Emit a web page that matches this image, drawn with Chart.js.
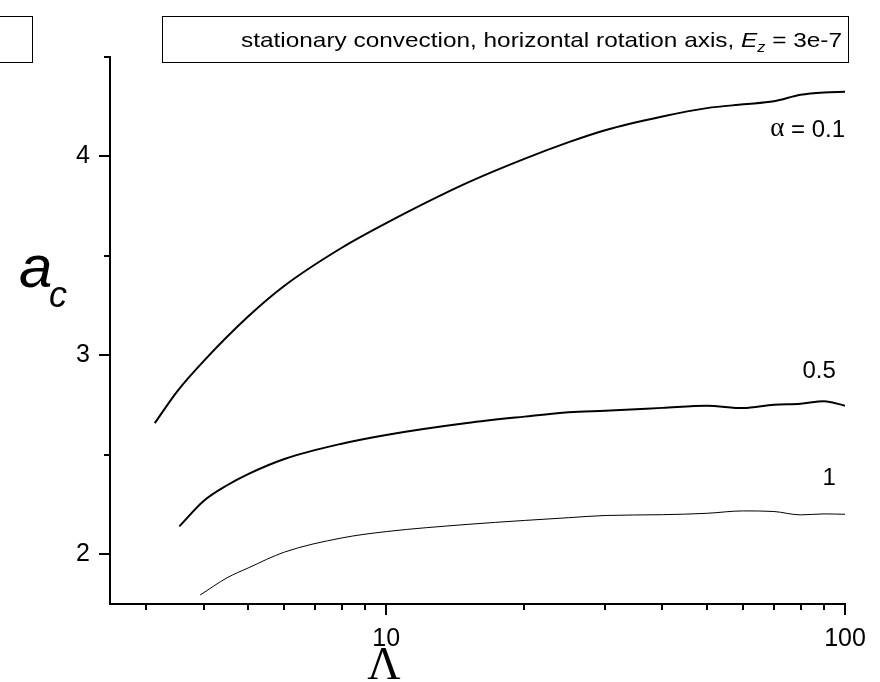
<!DOCTYPE html>
<html>
<head>
<meta charset="utf-8">
<script src="https://cdn.jsdelivr.net/npm/chart.js@4.4.1/dist/chart.umd.min.js"></script>
<style>
  html, body { margin: 0; padding: 0; background: #fff; }
  #wrap { width: 880px; height: 682px; }
</style>
</head>
<body>
<div id="wrap"><canvas id="ac-chart" width="880" height="682"></canvas></div>
<script>
// Critical wavenumber a_c against Elsasser number Lambda, one curve per alpha
const lambdaA01 = [3.13, 3.5, 4, 5, 6, 8, 10, 15, 20, 25, 30, 40, 50, 60, 70, 80, 90, 100];
const acA01 = [2.659, 2.818, 2.971, 3.195, 3.350, 3.541, 3.665, 3.867, 3.988, 4.072, 4.132, 4.201, 4.243, 4.262, 4.277, 4.310, 4.322, 4.325];

const lambdaA05 = [3.54, 4, 4.5, 5, 6, 8, 10, 15, 20, 25, 30, 40, 50, 60, 70, 80, 90, 100];
const acA05 = [2.140, 2.268, 2.347, 2.403, 2.479, 2.556, 2.600, 2.660, 2.692, 2.714, 2.722, 2.736, 2.747, 2.735, 2.752, 2.757, 2.769, 2.747];

const lambdaA1 = [3.93, 4.5, 5, 6, 8, 10, 15, 20, 25, 30, 40, 50, 60, 70, 80, 90, 100];
const acA1 = [1.795, 1.882, 1.931, 2.011, 2.082, 2.114, 2.150, 2.170, 2.184, 2.195, 2.199, 2.206, 2.218, 2.215, 2.198, 2.203, 2.201];

const xTickValues = [3, 4, 5, 6, 7, 8, 9, 10, 20, 30, 40, 50, 60, 70, 80, 90, 100];
const xTickLabels = { 10: '10', 100: '100' };
const yTickValues = [2, 2.5, 3, 3.5, 4, 4.5];

const curveLabels = [
    { greek: '\u03b1', text: ' = 0.1', x: 100, y: 4.13 },
    { greek: '', text: '0.5', x: 95.5, y: 2.918 },
    { greek: '', text: '1', x: 95.5, y: 2.384 }
];

const SANS = '"Liberation Sans", Arial, sans-serif';
const SERIF = '"Liberation Serif", "Times New Roman", serif';

function toPoints(xs, ys) {
    return xs.map((x, i) => ({ x: x, y: ys[i] }));
}

// tick marks: long for decades / integers, short for the rest
const tickMarks = {
    id: 'tickMarks',
    afterDraw(chart) {
        const ctx = chart.ctx;
        const xs = chart.scales.x;
        const ys = chart.scales.y;
        const area = chart.chartArea;
        ctx.save();
        ctx.strokeStyle = '#000';
        ctx.lineWidth = 2;
        xTickValues.forEach(v => {
            const px = Math.round(xs.getPixelForValue(v));
            const len = xTickLabels[v] ? 11 : 6;
            ctx.beginPath();
            ctx.moveTo(px, area.bottom);
            ctx.lineTo(px, area.bottom + len);
            ctx.stroke();
        });
        yTickValues.forEach(v => {
            const py = Math.round(ys.getPixelForValue(v));
            const len = Number.isInteger(v) ? 11 : 6;
            ctx.beginPath();
            ctx.moveTo(area.left, py);
            ctx.lineTo(area.left - len, py);
            ctx.stroke();
        });
        ctx.restore();
    }
};

// axis titles, curve labels and the header boxes
const annotations = {
    id: 'annotations',
    afterDraw(chart) {
        const ctx = chart.ctx;
        const xs = chart.scales.x;
        const ys = chart.scales.y;
        ctx.save();
        ctx.fillStyle = '#000';
        ctx.textBaseline = 'alphabetic';

        // y title: italic a with subscript c
        ctx.textAlign = 'left';
        ctx.font = 'italic 60px ' + SANS;
        ctx.fillText('a', 19, 287);
        ctx.font = 'italic 36px ' + SANS;
        ctx.fillText('c', 49, 307);

        // x title
        ctx.textAlign = 'center';
        ctx.font = '46px ' + SERIF;
        ctx.fillText('\u039b', 384, 679);

        // curve labels, right aligned at their anchor
        ctx.textBaseline = 'middle';
        curveLabels.forEach(l => {
            const px = xs.getPixelForValue(l.x);
            const py = ys.getPixelForValue(l.y);
            ctx.font = '24px ' + SANS;
            const wText = ctx.measureText(l.text).width;
            ctx.textAlign = 'left';
            ctx.fillText(l.text, px - wText, py);
            if (l.greek) {
                ctx.font = '27px ' + SERIF;
                const wG = ctx.measureText(l.greek).width;
                ctx.fillText(l.greek, px - wText - wG, py - 2);
            }
        });

        // header boxes
        ctx.strokeStyle = '#000';
        ctx.lineWidth = 1;
        ctx.strokeRect(-1.5, 16.5, 34, 46);
        ctx.strokeRect(162.5, 16.5, 686, 46);

        // header text, fitted between x=241 and x=842
        const parts = [
            { t: 'stationary convection, horizontal rotation axis, ', f: '21px ' + SANS, dy: 0 },
            { t: 'E', f: 'italic 21px ' + SANS, dy: 0 },
            { t: 'z', f: 'italic 14px ' + SANS, dy: 5 },
            { t: ' = 3e-7', f: '21px ' + SANS, dy: 0 }
        ];
        let total = 0;
        parts.forEach(p => { ctx.font = p.f; p.w = ctx.measureText(p.t).width; total += p.w; });
        const sx = (842 - 241) / total;
        ctx.textBaseline = 'alphabetic';
        ctx.textAlign = 'left';
        ctx.translate(241, 47);
        ctx.scale(sx, 1);
        let cx = 0;
        parts.forEach(p => {
            ctx.font = p.f;
            ctx.fillText(p.t, cx, p.dy);
            cx += p.w;
        });
        ctx.restore();
    }
};

const ctx = document.getElementById('ac-chart').getContext('2d');
const chart = new Chart(ctx, {
    type: 'scatter',
    data: {
        datasets: [
            {
                label: 'alpha = 0.1',
                data: toPoints(lambdaA01, acA01),
                borderColor: '#000',
                borderWidth: 2,
                showLine: true,
                pointRadius: 0,
                cubicInterpolationMode: 'monotone'
            },
            {
                label: 'alpha = 0.5',
                data: toPoints(lambdaA05, acA05),
                borderColor: '#000',
                borderWidth: 2,
                showLine: true,
                pointRadius: 0,
                cubicInterpolationMode: 'monotone'
            },
            {
                label: 'alpha = 1',
                data: toPoints(lambdaA1, acA1),
                borderColor: '#000',
                borderWidth: 1,
                showLine: true,
                pointRadius: 0,
                cubicInterpolationMode: 'monotone'
            }
        ]
    },
    options: {
        responsive: false,
        animation: false,
        layout: {
            padding: { top: 57, right: 35, left: 0, bottom: 0 }
        },
        plugins: {
            legend: { display: false },
            tooltip: { enabled: false }
        },
        scales: {
            x: {
                type: 'logarithmic',
                min: 2.5,
                max: 100,
                afterBuildTicks: scale => {
                    scale.ticks = xTickValues.map(v => ({ value: v }));
                },
                afterFit: scale => {
                    scale.height = 78;
                    scale.paddingLeft = 0;
                    scale.paddingRight = 0;
                },
                grid: { display: false, drawTicks: false },
                border: { display: true, color: '#000', width: 2 },
                ticks: {
                    autoSkip: false,
                    maxRotation: 0,
                    padding: 20,
                    color: '#000',
                    font: { family: SANS, size: 25 },
                    callback: value => xTickLabels[value] || ''
                }
            },
            y: {
                min: 1.75,
                max: 4.5,
                afterBuildTicks: scale => {
                    scale.ticks = yTickValues.map(v => ({ value: v }));
                },
                afterFit: scale => {
                    scale.width = 110;
                    scale.paddingTop = 0;
                    scale.paddingBottom = 0;
                },
                grid: { display: false, drawTicks: false },
                border: { display: true, color: '#000', width: 2 },
                ticks: {
                    autoSkip: false,
                    padding: 20,
                    color: '#000',
                    font: { family: SANS, size: 25 },
                    callback: value => Number.isInteger(value) ? String(value) : ''
                }
            }
        }
    },
    plugins: [tickMarks, annotations]
});
</script>
</body>
</html>
